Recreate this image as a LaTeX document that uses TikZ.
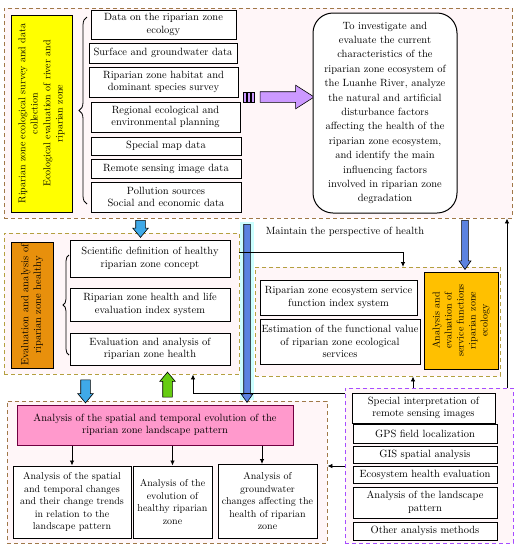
\documentclass[tikz,border=0pt]{standalone}
\usetikzlibrary{shapes.arrows,decorations.pathreplacing,arrows.meta}

\definecolor{framebrown}{HTML}{A07848}
\definecolor{frameolive}{HTML}{B4A040}
\definecolor{framepurple}{HTML}{A64DFF}
\definecolor{framefill}{HTML}{FFF6F8}
\definecolor{boxyellow}{HTML}{FFFF00}
\definecolor{boxorange}{HTML}{E8900C}
\definecolor{boxgold}{HTML}{FFC000}
\definecolor{boxpink}{HTML}{FF99CC}
\definecolor{boxmaroon}{HTML}{700040}
\definecolor{arrowsky}{HTML}{3FA9E8}
\definecolor{arrowblue}{HTML}{5B82E0}
\definecolor{arrowgreen}{HTML}{66CC11}
\definecolor{arrowviolet}{HTML}{CC99FF}
\definecolor{halo}{HTML}{CCFFFF}

\tikzset{
	frame/.style={draw=framebrown, dash pattern=on 4pt off 3pt, line width=0.9pt, fill=framefill, inner sep=0pt},
	databox/.style={draw, line width=1pt, fill=white, align=center, inner sep=1pt},
	sidebox/.style={draw, line width=1pt, rotate=90, align=center, inner sep=1pt},
	fatarrow/.style={single arrow, draw, line width=0.6pt, inner sep=4.5pt, single arrow head extend=3pt, single arrow tip angle=80},
	thinarrow/.style={single arrow, draw, line width=0.6pt, inner sep=3pt, single arrow head extend=2.5pt, single arrow tip angle=70},
	link/.style={line width=0.8pt, -{Latex[length=5pt,width=4.5pt]}}
}

\begin{document}
\begin{tikzpicture}[x=1pt, y=-1pt, font=\fontsize{10.5}{12.5}\selectfont]
	\useasboundingbox[fill=white] (0,0) rectangle (519,550);

	% frames
	\node[frame, minimum width=508, minimum height=210] (survey) at (258,113) {};
	\node[frame, draw=frameolive, minimum width=235, minimum height=141] (health) at (121.5,303.5) {};
	\node[frame, draw=frameolive, minimum width=245, minimum height=109] (service) at (377.5,321.5) {};
	\node[frame, minimum width=320, minimum height=142] (landscape) at (167,472) {};
	\node[frame, draw=framepurple, minimum width=168, minimum height=155] (methods) at (429,465.5) {};

	% survey and data collection
	\node[sidebox, fill=boxyellow, minimum width=197, minimum height=61, font=\fontsize{10}{12.5}\selectfont] (surveyside) at (41.5,113.5)
		{Riparian zone ecological survey and data\\collection\\Ecological evaluation of river and\\riparian zone};
	\draw[line width=0.8pt, decorate, decoration={brace, amplitude=8pt}] (87,204) -- (87,17);
	\node[databox, minimum width=145, minimum height=29] (d1) at (163.5,24.5) {Data on the riparian zone\\ecology};
	\node[databox, minimum width=148, minimum height=20] (d2) at (163,53) {Surface and groundwater data};
	\node[databox, minimum width=149, minimum height=30] (d3) at (163.5,82) {Riparian zone habitat and\\dominant species survey};
	\node[databox, minimum width=149, minimum height=30] (d4) at (165.5,117) {Regional ecological and\\environmental planning};
	\node[databox, minimum width=150, minimum height=18] (d5) at (166,146) {Special map data};
	\node[databox, minimum width=150, minimum height=19] (d6) at (166,168.5) {Remote sensing image data};
	\node[databox, minimum width=150, minimum height=30] (d7) at (166,197) {Pollution sources\\Social and economic data};

	\foreach \x in {243,247,251}
		\draw[line width=0.6pt, fill=arrowviolet] (\x,92) rectangle (\x+3,102);
	\node[fatarrow, fill=arrowviolet, inner sep=5pt, single arrow head extend=6.5pt, single arrow tip angle=65, minimum height=54, minimum width=23] (goalarrow) at (283,97) {};
	\node[databox, rounded corners=20pt, minimum width=144, minimum height=200, font=\fontsize{10.5}{14.4}\selectfont] (goal) at (385,113)
		{To investigate and\\evaluate the current\\characteristics of the\\riparian zone ecosystem of\\the Luanhe River, analyze\\the natural and artificial\\disturbance factors\\affecting the health of the\\riparian zone ecosystem,\\and identify the main\\influencing factors\\involved in riparian zone\\degradation};

	% healthy riparian zone
	\node[sidebox, fill=boxorange, minimum width=126, minimum height=42] (healthside) at (32,305)
		{Evaluation and analysis of\\riparian zone healthy};
	\draw[line width=0.8pt, decorate, decoration={brace, amplitude=6pt}] (69,355) -- (69,255);
	\node[databox, minimum width=160, minimum height=37] (h1) at (150,258.5) {Scientific definition of healthy\\riparian zone concept};
	\node[databox, minimum width=160, minimum height=33] (h2) at (150,304.5) {Riparian zone health and life\\evaluation index system};
	\node[databox, minimum width=160, minimum height=32] (h3) at (150,349) {Evaluation and analysis of\\riparian zone health};

	% ecological service functions
	\node[databox, minimum width=157, minimum height=35] (s1) at (338.5,297.5) {Riparian zone ecosystem service\\function index system};
	\node[databox, minimum width=160, minimum height=45] (s2) at (340,341.5) {Estimation of the functional value\\of riparian zone ecological\\services};
	\node[sidebox, fill=boxgold, minimum width=97, minimum height=74, font=\fontsize{10}{12}\selectfont] (serviceside) at (461,320.5)
		{Analysis and\\evaluation of\\service functions\\riparian zone\\ecology};

	% landscape pattern
	\node[databox, draw=boxmaroon, fill=boxpink, minimum width=276, minimum height=40] (pattern) at (155,425)
		{Analysis of the spatial and temporal evolution of the\\riparian zone landscape pattern};
	\node[databox, minimum width=118, minimum height=72, font=\fontsize{10}{12.5}\selectfont] (l1) at (72,502)
		{Analysis of the spatial\\and temporal changes\\and their change trends\\in relation to the\\landscape pattern};
	\node[databox, minimum width=79, minimum height=72, font=\fontsize{10}{12.5}\selectfont] (l2) at (172.5,502)
		{Analysis of the\\evolution of\\healthy riparian\\zone};
	\node[databox, minimum width=99, minimum height=74, font=\fontsize{10}{12.5}\selectfont] (l3) at (267.5,501)
		{Analysis of\\groundwater\\changes affecting the\\health of riparian\\zone};
	\draw[link] (pattern.south -| l1) -- (l1.north);
	\draw[link] (pattern.south -| l2) -- (l2.north);
	\draw[link] (pattern.south -| 262,0) -- (262,464);

	% methods
	\node[databox, minimum width=143, minimum height=30] (m1) at (423.5,408) {Special interpretation of\\remote sensing images};
	\node[databox, minimum width=144, minimum height=19] (m2) at (425,433.5) {GPS field localization};
	\node[databox, minimum width=144, minimum height=17] (m3) at (425,454.5) {GIS spatial analysis};
	\node[databox, minimum width=144, minimum height=17] (m4) at (425,474.5) {Ecosystem health evaluation};
	\node[databox, minimum width=144, minimum height=31] (m5) at (425,502.5) {Analysis of the landscape\\pattern};
	\node[databox, minimum width=144, minimum height=18] (m6) at (425,531) {Other analysis methods};

	% block arrows between frames
	\node[fatarrow, fill=arrowsky, shape border rotate=270, minimum height=17, minimum width=15] (a1) at (140.5,226) {};
	\node[fatarrow, fill=arrowsky, shape border rotate=270, minimum height=23, minimum width=15] (a2) at (85.5,388.5) {};
	\node[fatarrow, fill=arrowgreen, shape border rotate=90, minimum height=25, minimum width=15] (a3) at (167.5,387.5) {};
	\fill[halo] (240,222) rectangle (254,400);
	\node[thinarrow, fill=arrowblue, shape border rotate=270, minimum height=178, minimum width=11] (a4) at (247,311) {};
	\node[thinarrow, fill=arrowblue, shape border rotate=270, minimum height=49, minimum width=12] (a5) at (465,242.5) {};

	% connectors
	\node (keep) at (345,232) {Maintain the perspective of health};
	\draw[link] (health.east |- 0,252) -- (403,252) -- (403,267);
	\draw[link] (methods.north -| 507,0) -- (survey.south -| 507,0);
	\draw[link] (methods.north -| 413,0) -- (service.south -| 413,0);
	\draw[link] (methods.west |- 0,466) -- (landscape.east |- 0,466);
	\draw[link] (methods.west |- 0,393) -- (193,393) -- (health.south -| 193,0);

\end{tikzpicture}
\end{document}
